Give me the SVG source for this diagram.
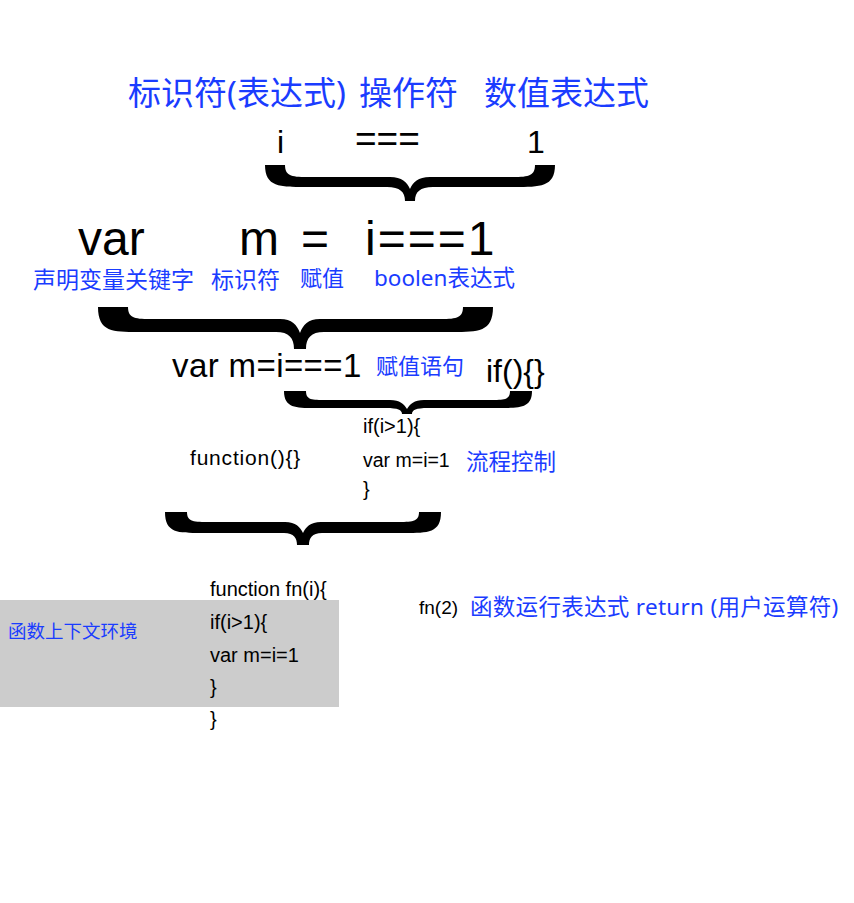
<svg xmlns="http://www.w3.org/2000/svg" width="854" height="903" viewBox="0 0 854 903">
<style>
.b{font-family:"Liberation Sans","Noto Sans CJK SC",sans-serif;fill:#000}
.c{font-family:"Noto Sans","Noto Sans CJK SC",sans-serif;fill:#1a3cff}
.br{fill:#000}
</style>
<rect width="854" height="903" fill="#fff"/>
<g id="context-box"><rect x="0" y="600" width="339" height="107" fill="#cccccc"/></g>
<g id="connectors">
<path class="br" d="M265,165 L285,165 C285,177 293,177 310,177 L390,177 C402,177 407,182 410,189 C413,182 418,177 430,177 L510,177 C527,177 535,177 535,165 L555,165 C555,187 540,187 515,187 L433,187 C420,187 415,192 415,201 L405,201 C405,192 400,187 387,187 L305,187 C280,187 265,187 265,165 Z"/>
<path class="br" d="M98,307 L128,307 C128,319 136,319 153,319 L280,319 C292,319 297,325 300,333 C303,325 308,319 320,319 L438,319 C455,319 463,319 463,307 L493,307 C493,332 478,332 453,332 L324,332 C311,332 306,338 306,349 L294,349 C294,338 289,332 276,332 L138,332 C113,332 98,332 98,307 Z"/>
<path class="br" d="M284,391 L306,391 C306,400 312,400 326,400 L390,400 C400,400 404,404 407,409 C410,404 414,400 424,400 L490,400 C504,400 510,400 510,391 L532,391 C532,408 520,408 500,408 L428,408 C416,408 412,410 412,414 L402,414 C402,410 398,408 386,408 L314,408 C296,408 284,408 284,391 Z"/>
<path class="br" d="M165,512 L187,512 C187,522 194,522 210,522 L285,522 C296,522 300,527 303,533 C306,527 310,522 321,522 L396,522 C412,522 419,522 419,512 L441,512 C441,533 428,533 405,533 L322,533 C312,533 309,538 309,545 L297,545 C297,538 294,533 284,533 L201,533 C178,533 165,533 165,512 Z"/>
</g>
<g id="row1-labels">
<text class="c" x="128" y="105" font-size="33">标识符(表达式)</text>
<text class="c" x="359" y="105" font-size="33">操作符</text>
<text class="c" x="484" y="105" font-size="33">数值表达式</text>
</g>
<g id="row1-code">
<text class="b" x="277" y="153" font-size="32">i</text>
<text class="b" x="355" y="151" font-size="37">===</text>
<text class="b" x="527" y="153" font-size="32">1</text>
</g>
<g id="row2-code">
<text class="b" x="78" y="255" font-size="48">var</text>
<text class="b" x="239" y="255" font-size="48">m</text>
<text class="b" x="301" y="255" font-size="48">=</text>
<text class="b" x="365" y="255" font-size="48" letter-spacing="2">i===1</text>
</g>
<g id="row2-labels">
<text class="c" x="33" y="288" font-size="23">声明变量关键字</text>
<text class="c" x="211" y="288" font-size="23">标识符</text>
<text class="c" x="300" y="286" font-size="22">赋值</text>
<text class="c" x="374" y="286" font-size="22.5">boolen表达式</text>
</g>
<g id="assign-statement">
<text class="b" x="172" y="377" font-size="33" letter-spacing="0.4">var m=i===1</text>
<text class="c" x="376" y="374" font-size="22">赋值语句</text>
<text class="b" x="486" y="382" font-size="32">if(){}</text>
</g>
<g id="flow-control">
<text class="b" x="363" y="433" font-size="20">if(i&gt;1){</text>
<text class="b" x="363" y="467" font-size="19.5">var m=i=1</text>
<text class="b" x="363" y="496" font-size="20">}</text>
<text class="c" x="466" y="470" font-size="22.5">流程控制</text>
<text class="b" x="190" y="465" font-size="21" letter-spacing="0.8">function(){}</text>
</g>
<g id="function-body">
<text class="c" x="8" y="638" font-size="18.5">函数上下文环境</text>
<text class="b" x="210" y="596" font-size="20">function fn(i){</text>
<text class="b" x="210" y="629" font-size="20">if(i&gt;1){</text>
<text class="b" x="210" y="662" font-size="20">var m=i=1</text>
<text class="b" x="210" y="694" font-size="20">}</text>
<text class="b" x="210" y="726" font-size="20">}</text>
</g>
<g id="call-expression">
<text class="b" x="419" y="614" font-size="19">fn(2)</text>
<text class="c" x="470" y="615" font-size="22.5" letter-spacing="0.3">函数运行表达式 return (用户运算符)</text>
</g>
</svg>
